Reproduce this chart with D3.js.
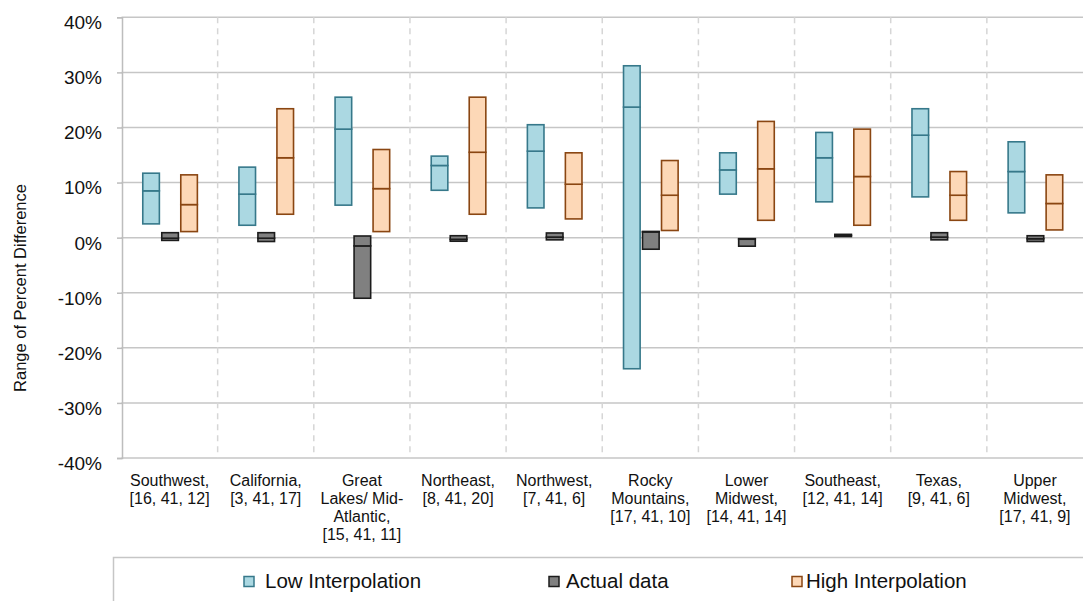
<!DOCTYPE html>
<html>
<head>
<meta charset="utf-8">
<script src="https://cdn.jsdelivr.net/npm/d3@7"></script>
<style>
    body { margin: 0; background: #fff; }
    text { font-family: Arial, "Liberation Sans", sans-serif; fill: #111; }
</style>
</head>
<body>
<script>
"use strict";

// regions, each label already wrapped the way the chart shows it
const regionLabels = [
    ["Southwest,", "[16, 41, 12]"],
    ["California,", "[3, 41, 17]"],
    ["Great", "Lakes/ Mid-", "Atlantic,", "[15, 41, 11]"],
    ["Northeast,", "[8, 41, 20]"],
    ["Northwest,", "[7, 41, 6]"],
    ["Rocky", "Mountains,", "[17, 41, 10]"],
    ["Lower", "Midwest,", "[14, 41, 14]"],
    ["Southeast,", "[12, 41, 14]"],
    ["Texas,", "[9, 41, 6]"],
    ["Upper", "Midwest,", "[17, 41, 9]"]
];

// percent difference: min / middle / max of each box
const lowMin = [2.5, 2.25, 5.9, 8.6, 5.4, -23.8, 7.9, 6.5, 7.4, 4.5];
const lowMid = [8.5, 7.9, 19.7, 13.1, 15.7, 23.7, 12.3, 14.5, 18.6, 12.0];
const lowMax = [11.7, 12.8, 25.5, 14.8, 20.5, 31.2, 15.4, 19.1, 23.4, 17.4];

const actualMin = [-0.5, -0.7, -11.0, -0.65, -0.4, -2.1, -1.55, 0.2, -0.4, -0.7];
const actualMid = [-0.1, -0.1, -1.5, -0.3, 0.1, 1.1, -0.2, 0.4, 0.1, -0.2];
const actualMax = [0.9, 0.9, 0.3, 0.35, 0.85, 1.1, -0.2, 0.6, 0.9, 0.35];

const highMin = [1.1, 4.25, 1.1, 4.25, 3.4, 1.3, 3.15, 2.25, 3.15, 1.4];
const highMid = [6.0, 14.5, 8.9, 15.5, 9.7, 7.7, 12.5, 11.1, 7.7, 6.2];
const highMax = [11.4, 23.4, 16.0, 25.5, 15.4, 14.0, 21.1, 19.7, 12.0, 11.4];

const yTicks = [-40, -30, -20, -10, 0, 10, 20, 30, 40];
const seriesNames = ["Low Interpolation", "Actual data", "High Interpolation"];

(function () {

    const measurements = {
        width: 1083,
        height: 601,
        plotLeft: 121.5,
        plotRight: 1083,
        plotTop: 17.3,
        plotBottom: 458,
        boxWidth: 16.6
    };

    const styles = {
        "Low Interpolation": { fill: "#abd8e2", stroke: "#36788a" },
        "Actual data": { fill: "#808080", stroke: "#1c1c1c" },
        "High Interpolation": { fill: "#fdd8b7", stroke: "#8a4612" }
    };

    const series = [
        { name: seriesNames[0], min: lowMin, mid: lowMid, max: lowMax },
        { name: seriesNames[1], min: actualMin, mid: actualMid, max: actualMax },
        { name: seriesNames[2], min: highMin, mid: highMid, max: highMax }
    ];

    const svg = d3.select("body").append("svg")
        .attr("width", measurements.width)
        .attr("height", measurements.height);

    const scaleX = d3.scaleBand()
        .domain(d3.range(regionLabels.length))
        .range([measurements.plotLeft, measurements.plotRight]);

    // position of each series inside a region
    const scaleSeries = d3.scalePoint()
        .domain(seriesNames)
        .range([-18.5, 19.5]);

    const scaleY = d3.scaleLinear()
        .domain([-40, 40])
        .range([measurements.plotBottom, measurements.plotTop]);

    // horizontal gridlines
    svg.append("g")
        .selectAll("line")
        .data(yTicks)
        .enter()
        .append("line")
        .attr("x1", measurements.plotLeft)
        .attr("x2", measurements.plotRight)
        .attr("y1", (d) => scaleY(d))
        .attr("y2", (d) => scaleY(d))
        .attr("stroke", "#c6c6c6")
        .attr("stroke-width", 1.5);

    // dashed separators between regions
    svg.append("g")
        .selectAll("line")
        .data(d3.range(1, regionLabels.length))
        .enter()
        .append("line")
        .attr("x1", (d) => scaleX(d))
        .attr("x2", (d) => scaleX(d))
        .attr("y1", measurements.plotTop)
        .attr("y2", measurements.plotBottom)
        .attr("stroke", "#d6d6d6")
        .attr("stroke-width", 1.5)
        .attr("stroke-dasharray", "6,5");

    // y axis
    const yAxis = d3.axisLeft(scaleY)
        .tickValues(yTicks)
        .tickSize(5)
        .tickPadding(15)
        .tickFormat((d) => d + "%");

    const yAxisG = svg.append("g")
        .attr("transform", "translate(" + (measurements.plotLeft + 0.5) + ",0)")
        .call(yAxis);
    yAxisG.select(".domain").attr("stroke", "#bdbdbd").attr("stroke-width", 1.5);
    yAxisG.selectAll(".tick line").attr("stroke", "#bdbdbd").attr("stroke-width", 1.5);
    yAxisG.selectAll(".tick text")
        .attr("dy", "0.6em")
        .style("font-size", "19px")
        .style("font-family", "Arial, 'Liberation Sans', sans-serif")
        .attr("fill", "#111");

    svg.append("text")
        .attr("transform", "translate(26,288) rotate(-90)")
        .attr("text-anchor", "middle")
        .style("font-size", "16.5px")
        .text("Range  of Percent Difference");

    // boxes: lower segment min->mid, upper segment mid->max
    series.forEach(function (s) {
        const st = styles[s.name];
        const g = svg.append("g");
        const boxes = g.selectAll("g")
            .data(d3.range(regionLabels.length))
            .enter()
            .append("g")
            .attr("transform", (i) => "translate(" +
                (scaleX(i) + scaleX.bandwidth() / 2 + scaleSeries(s.name) - measurements.boxWidth / 2) + ",0)");

        boxes.append("rect")
            .attr("y", (i) => scaleY(s.mid[i]))
            .attr("height", (i) => Math.max(0.5, scaleY(s.min[i]) - scaleY(s.mid[i])))
            .attr("width", measurements.boxWidth)
            .attr("fill", st.fill)
            .attr("stroke", st.stroke)
            .attr("stroke-width", 1.6);

        boxes.append("rect")
            .attr("y", (i) => scaleY(s.max[i]))
            .attr("height", (i) => Math.max(0.5, scaleY(s.mid[i]) - scaleY(s.max[i])))
            .attr("width", measurements.boxWidth)
            .attr("fill", st.fill)
            .attr("stroke", st.stroke)
            .attr("stroke-width", 1.6);
    });

    // region labels
    const labels = svg.append("g")
        .selectAll("text")
        .data(regionLabels)
        .enter()
        .append("text")
        .attr("text-anchor", "middle")
        .style("font-size", "16px")
        .attr("transform", (d, i) => "translate(" + (scaleX(i) + scaleX.bandwidth() / 2) + ",486)");

    labels.selectAll("tspan")
        .data((d) => d)
        .enter()
        .append("tspan")
        .attr("x", 0)
        .attr("y", (d, j) => j * 18)
        .text((d) => d);

    // legend
    svg.append("path")
        .attr("d", "M113.5,601 V557.5 H1083")
        .attr("fill", "none")
        .attr("stroke", "#c6c6c6")
        .attr("stroke-width", 1.5);

    const legendSquareX = [244, 549, 792];
    const legendTextX = [265, 566, 806];

    const legend = svg.append("g")
        .selectAll("g")
        .data(seriesNames)
        .enter()
        .append("g");

    legend.append("rect")
        .attr("x", (d, i) => legendSquareX[i])
        .attr("y", 576.5)
        .attr("width", 10)
        .attr("height", 10)
        .attr("fill", (d) => styles[d].fill)
        .attr("stroke", (d) => styles[d].stroke)
        .attr("stroke-width", 1.5);

    legend.append("text")
        .attr("x", (d, i) => legendTextX[i])
        .attr("y", 587.5)
        .style("font-size", "20.5px")
        .text((d) => d);

})();
</script>
</body>
</html>
